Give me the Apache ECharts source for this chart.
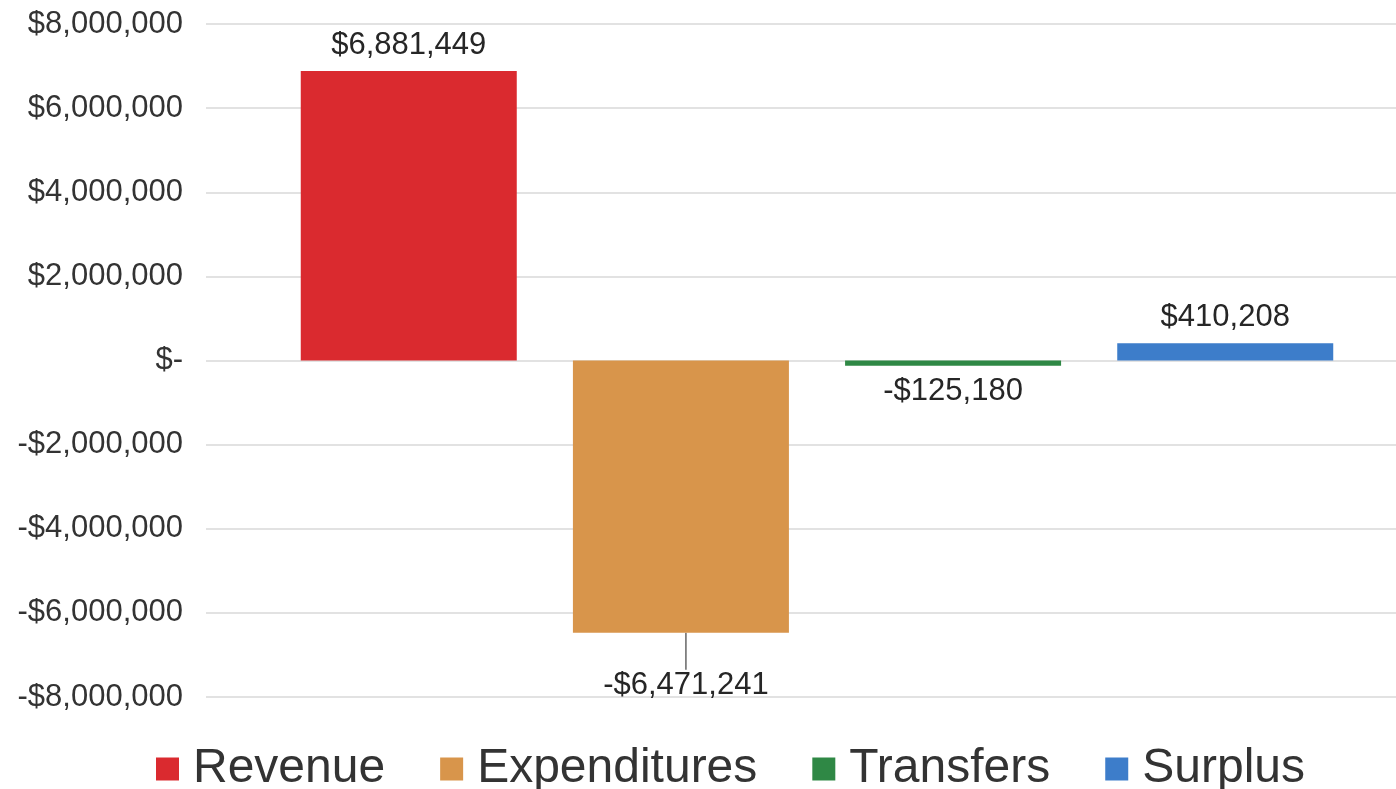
<!DOCTYPE html>
<html>
<head>
<meta charset="utf-8">
<script src="https://cdn.jsdelivr.net/npm/echarts@6/dist/echarts.min.js"></script>
<style>
  html, body { margin: 0; padding: 0; background: #ffffff; }
  #chart { width: 1396px; height: 789px; }
</style>
</head>
<body>
<div id="chart"></div>
<script>
// Budget summary: one bar per series around a single category
const categories = ['FY'];
const seriesNames = ['Revenue', 'Expenditures', 'Transfers', 'Surplus'];
const seriesValues = [6881449, -6471241, -125180, 410208];
const seriesColors = ['#da2a2f', '#d8954b', '#2f8845', '#3d7dca'];
const yTicks = { min: -8000000, max: 8000000, interval: 2000000 };

const FONT = 'Arial, "Liberation Sans", sans-serif';

function money(v) {
  if (v === 0) return '$-';
  const s = Math.abs(Math.round(v)).toString().replace(/\B(?=(\d{3})+(?!\d))/g, ',');
  return (v < 0 ? '-$' : '$') + s;
}

const chart = echarts.init(document.getElementById('chart'));

const series = seriesNames.map((name, i) => {
  const v = seriesValues[i];
  const s = {
    name: name,
    type: 'bar',
    xAxisIndex: 1,
    yAxisIndex: 1,
    barWidth: 216,
    barGap: '26%',
    data: [v],
    itemStyle: { color: seriesColors[i] },
    label: {
      show: true,
      position: v >= 0 ? 'top' : 'bottom',
      distance: 10,
      formatter: p => money(p.value),
      fontFamily: FONT,
      fontSize: 31,
      color: '#262626'
    }
  };
  // The expenditure label sits a little below its bar with a leader line
  if (name === 'Expenditures') {
    s.labelLayout = { dy: 27, dx: 5 };
    s.labelLine = { show: true, lineStyle: { color: '#666', width: 1.5 } };
  }
  return s;
});

const yRange = { min: yTicks.min, max: yTicks.max, interval: yTicks.interval };

chart.setOption({
  animation: false,
  backgroundColor: '#ffffff',
  // grid 0 carries the value axis and gridlines, grid 1 carries the bars
  grid: [
    { left: 206, right: 0, top: 24, bottom: 92 },
    { left: 238, right: 0, top: 24, bottom: 92 }
  ],
  legend: {
    data: seriesNames,
    left: 151,
    top: 740,
    icon: 'rect',
    itemWidth: 23,
    itemHeight: 23,
    itemGap: 55,
    textStyle: { fontFamily: FONT, fontSize: 48, color: '#333333', padding: [0, 0, 0, 9] }
  },
  xAxis: [
    { type: 'category', gridIndex: 0, data: categories, show: false },
    { type: 'category', gridIndex: 1, data: categories, show: false }
  ],
  yAxis: [
    Object.assign({
      type: 'value',
      gridIndex: 0,
      axisLine: { show: false },
      axisTick: { show: false },
      splitLine: { lineStyle: { color: '#d9d9d9', width: 1.5 } },
      axisLabel: {
        formatter: v => money(v),
        fontFamily: FONT,
        fontSize: 31,
        color: '#333333',
        margin: 23
      }
    }, yRange),
    Object.assign({
      type: 'value',
      gridIndex: 1,
      show: false,
      splitLine: { show: false }
    }, yRange)
  ],
  series: series
});
</script>
</body>
</html>
